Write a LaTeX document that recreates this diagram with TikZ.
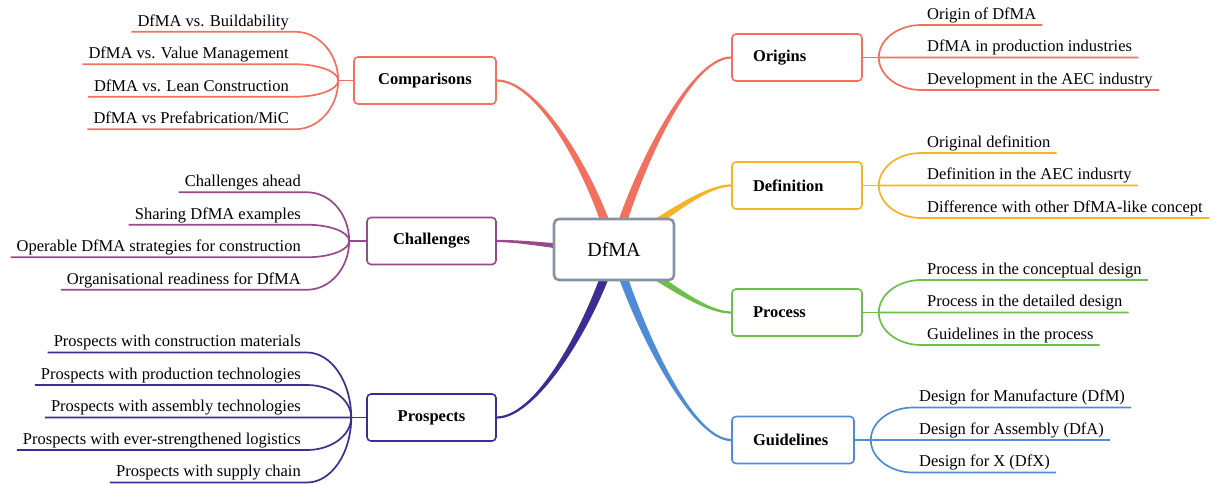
\documentclass[tikz,border=0pt]{standalone}
\usepackage{fontspec}
\setmainfont{LiberationSerif-Regular.ttf}[BoldFont=LiberationSerif-Bold.ttf,ItalicFont=LiberationSerif-Italic.ttf]
\usetikzlibrary{calc,backgrounds}
\definecolor{cred}{HTML}{F2705D}
\definecolor{cyel}{HTML}{F5B325}
\definecolor{cgrn}{HTML}{6CC04A}
\definecolor{cblu}{HTML}{4E8CD8}
\definecolor{cind}{HTML}{3A2E93}
\definecolor{cpur}{HTML}{964A8C}
\definecolor{cgray}{HTML}{8793A3}
% tapered main connector: color, start, ctrl1, ctrl2, end, start half-offset
\newcommand\taper[6]{%
  \fill[#1] ($(#2)+#6$) .. controls ($#3+#6$) and ($#4+(0,-1.3)$) .. ($(#5)+(0,-1.1)$)
    -- ($(#5)+(0,1.1)$) .. controls ($#4+(0,1.3)$) and ($#3-#6$) .. ($(#2)-#6$) -- cycle;}
% twig: color, branch point, leaf start anchor, leaf end anchor
\newcommand\twig[4]{%
  \draw[ln,#1] (#2) .. controls ($(#2)!0.55!(#2|-#3)$) and ($(#3)!0.55!(#2|-#3)$) .. (#3) -- (#4);}
\begin{document}
\begin{tikzpicture}[x=1pt,y=-1pt,
  box/.style={draw, line width=1.6pt, rounded corners=4pt, fill=white,
    font=\fontsize{16.5}{18}\selectfont\bfseries, minimum height=47pt, inner ysep=0pt},
  rbox/.style={box, text width=#1, align=left, inner xsep=21pt},
  lbox/.style={box, minimum width=#1, align=center},
  leaf/.style={inner xsep=6pt, inner ysep=0pt, text depth=5.5pt,
    font=\fontsize{16.5}{18}\selectfont},
  ln/.style={line width=1.7pt}]
\useasboundingbox (0,0) rectangle (1211,483);

% central node
\node[draw=cgray, line width=2.6pt, rounded corners=5pt, fill=white,
  minimum width=120pt, minimum height=61pt, font=\fontsize{20}{24}\selectfont] (c) at (614,249.5) {DfMA};

% main topic boxes
\node[rbox=88pt, draw=cred] (orig) at (797,57.5) {Origins};
\node[rbox=88pt, draw=cyel] (defi) at (797,185.5) {Definition};
\node[rbox=88pt, draw=cgrn] (proc) at (797,312.5) {Process};
\node[rbox=80pt, draw=cblu] (guid) at (793,440) {Guidelines};
\node[lbox=142pt, draw=cred] (comp) at (425,80.5) {Comparisons};
\node[lbox=129pt, draw=cpur] (chal) at (431.5,241) {Challenges};
\node[lbox=129pt, draw=cind] (pros) at (431.5,417.5) {Prospects};

% main connectors
\begin{pgfonlayer}{background}
\taper{cred}{c.center}{(595,180)}{(540,80.5)}{comp.east}{(4.34,-1.18)}
\taper{cred}{c.center}{(633,180)}{(688,57.5)}{orig.west}{(-4.34,-1.18)}
\taper{cyel}{c.center}{(650,230)}{(700,185.5)}{defi.west}{(-2.18,-3.93)}
\taper{cgrn}{c.center}{(650,270)}{(700,312.5)}{proc.west}{(2.18,-3.93)}
\taper{cblu}{c.center}{(635,320)}{(690,440)}{guid.west}{(4.31,-1.29)}
\taper{cind}{c.center}{(593,320)}{(538,417.5)}{pros.east}{(-4.31,-1.29)}
\taper{cpur}{c.center}{(570,249.5)}{(530,241)}{chal.east}{(0,-3.5)}
\end{pgfonlayer}

% branch points
\coordinate (bO) at ($(orig.east)+(16,0)$);
\coordinate (bD) at ($(defi.east)+(16,0)$);
\coordinate (bP) at ($(proc.east)+(16,0)$);
\coordinate (bG) at ($(guid.east)+(16,0)$);
\coordinate (bC) at ($(comp.west)+(-15,0)$);
\coordinate (bH) at ($(chal.west)+(-17,0)$);
\coordinate (bR) at ($(pros.west)+(-15,0)$);
\draw[ln,cred] (orig.east) -- (bO);
\draw[ln,cyel] (defi.east) -- (bD);
\draw[ln,cgrn] (proc.east) -- (bP);
\draw[ln,cblu] (guid.east) -- (bG);
\draw[ln,cred] (comp.west) -- (bC);
\draw[ln,cpur] (chal.west) -- (bH);
\draw[ln,cind] (pros.west) -- (bR);

% Origins leaves
\node[leaf, anchor=south west] (o1) at (921,25) {Origin of DfMA};
\node[leaf, anchor=south west] (o2) at (921,57.5) {DfMA in production industries};
\node[leaf, anchor=south west] (o3) at (921,90) {Development in the AEC industry};
\twig{cred}{bO}{o1.south west}{o1.south east}
\twig{cred}{bO}{o2.south west}{o2.south east}
\twig{cred}{bO}{o3.south west}{o3.south east}

% Definition leaves
\node[leaf, anchor=south west] (d1) at (921,153) {Original definition};
\node[leaf, anchor=south west] (d2) at (921,185.5) {Definition in the AEC indusrty};
\node[leaf, anchor=south west] (d3) at (921,218) {Difference with other DfMA-like concept};
\twig{cyel}{bD}{d1.south west}{d1.south east}
\twig{cyel}{bD}{d2.south west}{d2.south east}
\twig{cyel}{bD}{d3.south west}{d3.south east}

% Process leaves
\node[leaf, anchor=south west] (p1) at (921,280) {Process in the conceptual design};
\node[leaf, anchor=south west] (p2) at (921,312.5) {Process in the detailed design};
\node[leaf, anchor=south west] (p3) at (921,345) {Guidelines in the process};
\twig{cgrn}{bP}{p1.south west}{p1.south east}
\twig{cgrn}{bP}{p2.south west}{p2.south east}
\twig{cgrn}{bP}{p3.south west}{p3.south east}

% Guidelines leaves
\node[leaf, anchor=south west] (g1) at (913,407.5) {Design for Manufacture (DfM)};
\node[leaf, anchor=south west] (g2) at (913,440) {Design for Assembly (DfA)};
\node[leaf, anchor=south west] (g3) at (913,472.5) {Design for X (DfX)};
\twig{cblu}{bG}{g1.south west}{g1.south east}
\twig{cblu}{bG}{g2.south west}{g2.south east}
\twig{cblu}{bG}{g3.south west}{g3.south east}

% Comparisons leaves
\node[leaf, anchor=south east] (k1) at (295,31.75) {DfMA vs. Buildability};
\node[leaf, anchor=south east] (k2) at (295,64.25) {DfMA vs. Value Management};
\node[leaf, anchor=south east] (k3) at (295,96.75) {DfMA vs. Lean Construction};
\node[leaf, anchor=south east] (k4) at (295,129.25) {DfMA vs Prefabrication/MiC};
\twig{cred}{bC}{k1.south east}{k1.south west}
\twig{cred}{bC}{k2.south east}{k2.south west}
\twig{cred}{bC}{k3.south east}{k3.south west}
\twig{cred}{bC}{k4.south east}{k4.south west}

% Challenges leaves
\node[leaf, anchor=south east] (h1) at (307,192.25) {Challenges ahead};
\node[leaf, anchor=south east] (h2) at (307,224.75) {Sharing DfMA examples};
\node[leaf, anchor=south east] (h3) at (307,257.25) {Operable DfMA strategies for construction};
\node[leaf, anchor=south east] (h4) at (307,289.75) {Organisational readiness for DfMA};
\twig{cpur}{bH}{h1.south east}{h1.south west}
\twig{cpur}{bH}{h2.south east}{h2.south west}
\twig{cpur}{bH}{h3.south east}{h3.south west}
\twig{cpur}{bH}{h4.south east}{h4.south west}

% Prospects leaves
\node[leaf, anchor=south east] (r1) at (307,352.5) {Prospects with construction materials};
\node[leaf, anchor=south east] (r2) at (307,385) {Prospects with production technologies};
\node[leaf, anchor=south east] (r3) at (307,417.5) {Prospects with assembly technologies};
\node[leaf, anchor=south east] (r4) at (307,450) {Prospects with ever-strengthened logistics};
\node[leaf, anchor=south east] (r5) at (307,482.5) {Prospects with supply chain};
\twig{cind}{bR}{r1.south east}{r1.south west}
\twig{cind}{bR}{r2.south east}{r2.south west}
\twig{cind}{bR}{r3.south east}{r3.south west}
\twig{cind}{bR}{r4.south east}{r4.south west}
\twig{cind}{bR}{r5.south east}{r5.south west}
\end{tikzpicture}
\end{document}
